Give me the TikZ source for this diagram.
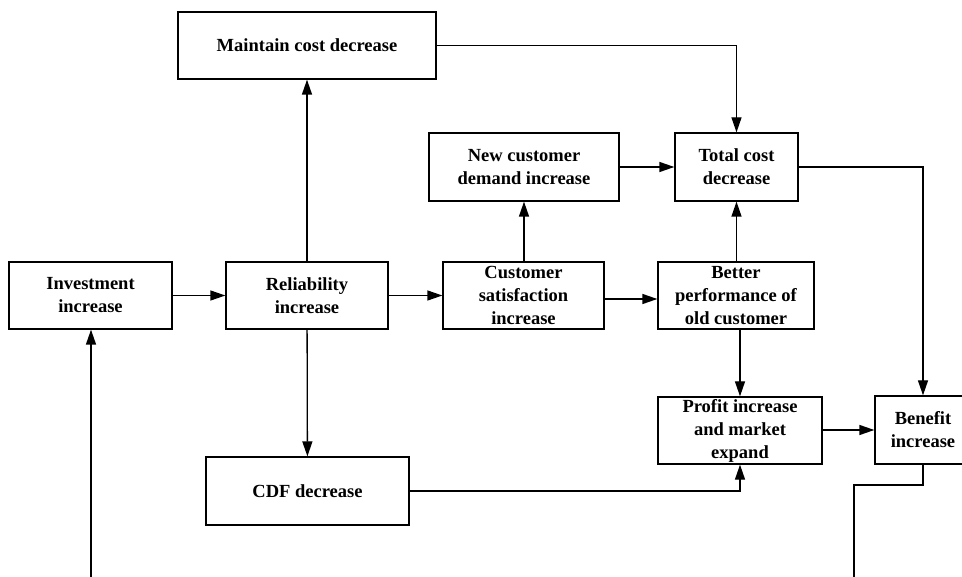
\documentclass[tikz,border=0pt]{standalone}
\usepackage{fontspec}
\setmainfont{Liberation Serif}
\usetikzlibrary{arrows.meta}
\begin{document}
\begin{tikzpicture}[x=1pt,y=-1pt,
  box/.style={draw,line width=1.3pt,rectangle,inner sep=0pt,align=center,
    font=\fontsize{18.5}{23}\selectfont\bfseries},
  arr/.style={line width=1.3pt,-{Triangle[length=15pt,width=10pt]}},
  ln/.style={line width=1.3pt}]
\useasboundingbox (0,0) rectangle (962,577);
\node[box,minimum width=258pt,minimum height=67pt] (maint) at (307,45.5) {Maintain cost decrease};
\node[box,minimum width=190pt,minimum height=68pt] (newc) at (524,167) {New customer\\demand increase};
\node[box,minimum width=123pt,minimum height=68pt] (total) at (736.5,167) {Total cost\\decrease};
\node[box,minimum width=163pt,minimum height=67pt] (inv) at (90.5,295.5) {Investment\\increase};
\node[box,minimum width=162pt,minimum height=67pt] (rel) at (307,295.5) {Reliability\\increase};
\node[box,minimum width=161pt,minimum height=67pt] (cust) at (523.5,295.5) {Customer\\satisfaction\\increase};
\node[box,minimum width=156pt,minimum height=67pt] (better) at (736,295.5) {Better\\performance of\\old customer};
\node[box,minimum width=164pt,minimum height=67pt] (profit) at (740,430.5) {Profit increase\\and market\\expand};
\node[box,minimum width=96pt,minimum height=68pt] (benefit) at (923,430) {Benefit\\increase};
\node[box,minimum width=203pt,minimum height=68pt] (cdf) at (307.5,491) {CDF decrease};
\coordinate (invin) at (91,577);
\coordinate (benout) at (854,577);
\coordinate (bend) at (923,485);
% connectors
\draw[arr] (inv) -- (rel);
\draw[arr] (rel) -- (cust);
\draw[arr] ([yshift=-3.5pt]cust.east) -- ([yshift=-3.5pt]better.west);
\draw[arr] (rel) -- (maint);
\draw[arr] (rel) -- (cdf);
\draw[arr] (cust.north -| newc.south) -- (newc.south);
\draw[arr] (newc) -- (total);
\draw[arr] (maint.east) -| (total.north);
\draw[arr] (better.north -| total.south) -- (total.south);
\draw[arr] (better.south -| profit.north) -- (profit.north);
\draw[arr] (total.east) -| (benefit.north);
\draw[arr] (profit.east |- benefit.west) -- (benefit.west);
\draw[arr] (cdf.east) -| (profit.south);
\draw[arr] (invin) -- (inv.south -| invin);
\draw[ln] (benefit.south) -- (bend) -| (benout);
\end{tikzpicture}
\end{document}
